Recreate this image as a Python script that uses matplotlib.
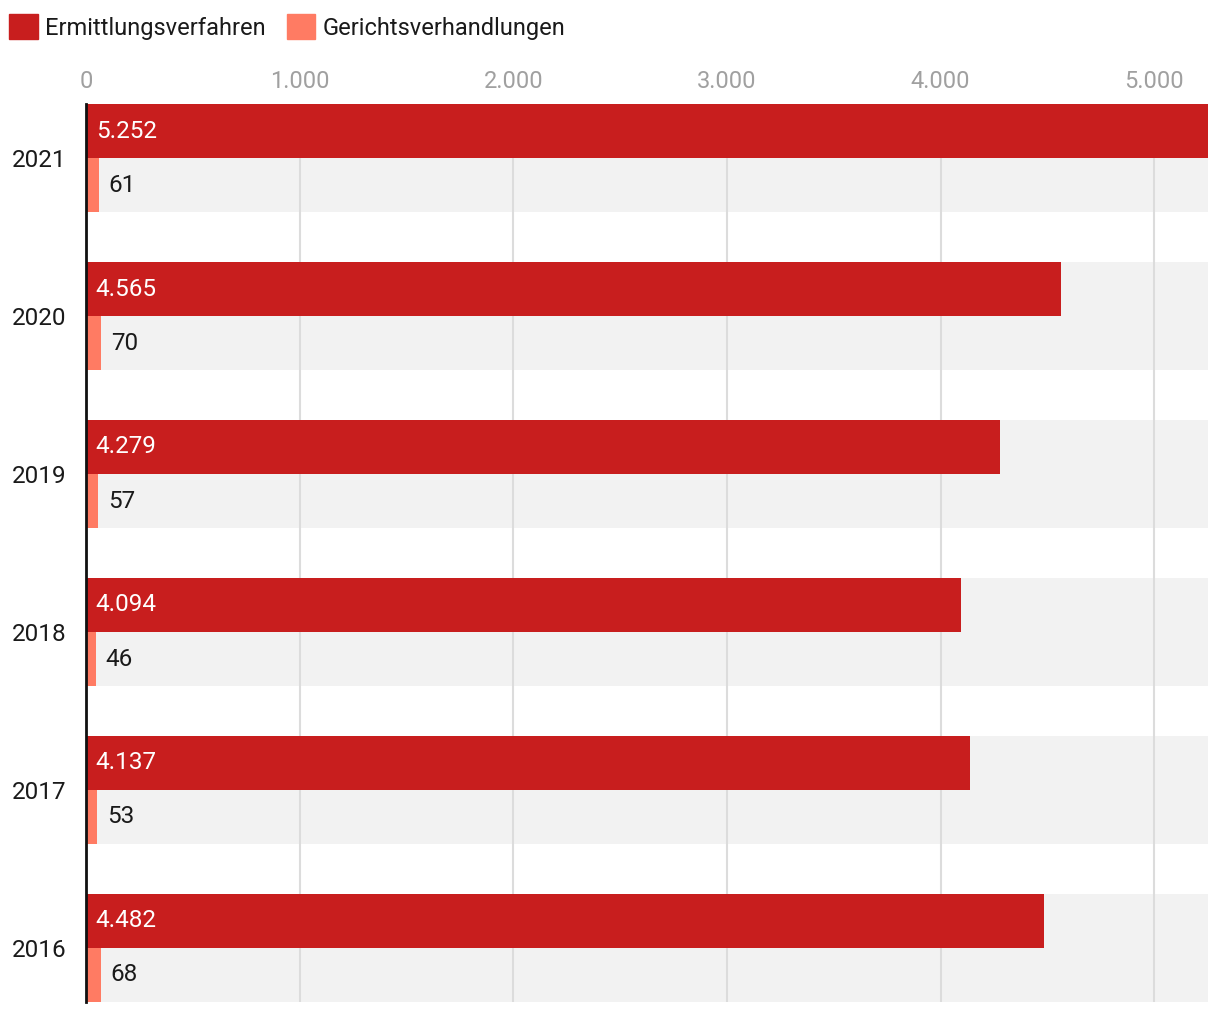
import matplotlib.pyplot as plt
from matplotlib.patches import Patch
from matplotlib.ticker import FuncFormatter

plt.rcParams['font.family'] = ['Roboto', 'DejaVu Sans']

years = ['2021', '2020', '2019', '2018', '2017', '2016']
ermittlung = [5252, 4565, 4279, 4094, 4137, 4482]
gericht = [61, 70, 57, 46, 53, 68]
series_names = ['Ermittlungsverfahren', 'Gerichtsverhandlungen']

red = '#c81e1e'
salmon = '#ff7b63'

def fmt(v):
    return f'{int(v):,}'.replace(',', '.')

fig = plt.figure(figsize=(12.2, 10.14), dpi=100)
ax = fig.add_axes([86 / 1220, 1 - 1002 / 1014, (1208 - 86) / 1220, (1002 - 104) / 1014])

bar_h = 0.342
band_h = 2 * bar_h
pos = list(range(len(years)))
red_y = [p + bar_h / 2 for p in pos]
sal_y = [p + 1.5 * bar_h for p in pos]

# grey background band behind each year group
for p in pos:
    ax.axhspan(p, p + band_h, color='#f2f2f2', zorder=0, lw=0)

ax.barh(red_y, ermittlung, height=bar_h, color=red, zorder=2)
ax.barh(sal_y, gericht, height=bar_h, color=salmon, zorder=2)

for y, v in zip(red_y, ermittlung):
    ax.annotate(fmt(v), (0, y), xytext=(7, 0), textcoords='offset points',
                ha='left', va='center', color='white', fontsize=17.5, zorder=3)
for y, v in zip(sal_y, gericht):
    ax.annotate(fmt(v), (v, y), xytext=(7, 0), textcoords='offset points',
                ha='left', va='center', color='#1a1a1a', fontsize=17.5, zorder=3)

ax.set_xlim(0, max(ermittlung))
ax.set_ylim(len(years) - 1 + band_h, 0)

ax.xaxis.tick_top()
ax.set_xticks([0, 1000, 2000, 3000, 4000, 5000])
ax.xaxis.set_major_formatter(FuncFormatter(lambda v, _: fmt(v)))
ax.tick_params(axis='x', length=0, pad=8, labelsize=17, labelcolor='#a0a0a0')
ax.set_yticks([p + bar_h for p in pos])
ax.set_yticklabels(years)
ax.tick_params(axis='y', length=0, pad=14, labelsize=17.5, labelcolor='#1a1a1a')

ax.set_axisbelow(True)
ax.grid(axis='x', color='#dcdcdc', lw=1.5)
ax.grid(axis='y', visible=False)
for s in ['top', 'right', 'bottom']:
    ax.spines[s].set_visible(False)
ax.spines['left'].set_color('#111111')
ax.spines['left'].set_linewidth(2)

handles = [Patch(color=red), Patch(color=salmon)]
fig.legend(handles, series_names, loc='upper left', bbox_to_anchor=(0.0, 1.0 - 5 / 1014),
           ncol=2, frameon=False, fontsize=17, handlelength=1.2, handleheight=1.2,
           handletextpad=0.3, columnspacing=0.9, borderaxespad=0.0, borderpad=0.4,
           labelcolor='#1a1a1a')

plt.savefig('out.png', dpi=100)
